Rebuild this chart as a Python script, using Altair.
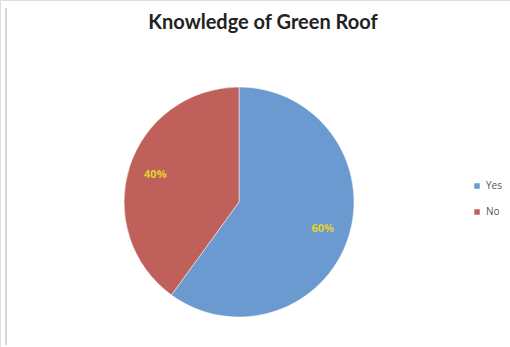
import altair as alt
import pandas as pd

categories = ["Yes", "No"]
values = [60, 40]
labels = ["60%", "40%"]
colors = ["#6A9ACF", "#C0605A"]

df = pd.DataFrame({"answer": categories, "value": values, "label": labels,
                   "order": [0, 1]})

base = alt.Chart(df).encode(
    theta=alt.Theta("value:Q", stack=True),
    order=alt.Order("order:Q"),
)

pie = base.mark_arc(outerRadius=115, stroke="white", strokeWidth=0.5).encode(
    x=alt.value(239), y=alt.value(202),
    color=alt.Color("answer:N", scale=alt.Scale(domain=categories, range=colors),
                    legend=alt.Legend(title=None, orient="none", legendX=472, legendY=181,
                                      symbolType="square", symbolSize=30,
                                      labelFont="Open Sans", labelFontSize=10,
                                      labelColor="#555555", rowPadding=16,
                                      symbolStrokeWidth=0)),
)

text = base.mark_text(radius=88, font="Open Sans", fontSize=11, fontWeight="bold",
                      color="#E2D22E").encode(
    x=alt.value(239), y=alt.value(202),
    text="label:N",
)

edge = alt.Chart(df.head(1)).mark_rule(color="#D6D6D6", strokeWidth=2).encode(
    x=alt.value(6), y=alt.value(8), y2=alt.value(345)
)

chart = alt.layer(edge, pie, text).properties(
    width=510, height=347,
    autosize=alt.AutoSizeParams(type="none"),
    padding=0,
    title=alt.Title("Knowledge of Green Roof", font="Lato", fontSize=20,
                    fontWeight="bold", color="#222222", anchor="middle",
                    offset=0, dx=8, dy=33, frame="group"),
).configure_view(stroke=None).configure(background="white")

chart.save("out.html", embed_options={"renderer": "svg", "actions": False})
